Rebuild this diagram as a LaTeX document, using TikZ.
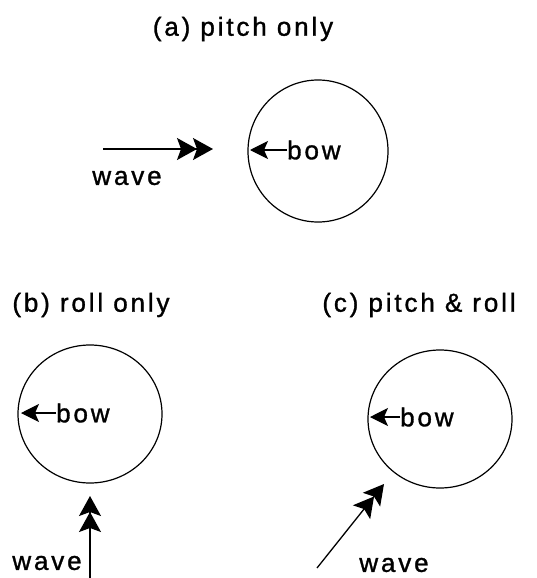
\documentclass[tikz,border=0pt]{standalone}
\usepackage{fontspec}
\newfontfamily\labfont{Liberation Sans}[LetterSpace=11,FakeBold=1.2]
\usetikzlibrary{arrows.meta}
\begin{document}
\begin{tikzpicture}[x=1pt,y=-1pt,
  lab/.style={font=\labfont\fontsize{26}{30}\selectfont, inner sep=0pt},
  hull/.style={draw, line width=1.2pt},
  wavearrow/.style={line width=1.3pt, -{Stealth[length=20pt,width=22pt,inset=4pt,sep=-4pt]Stealth[length=20pt,width=22pt,inset=4pt]}},
  bowarrow/.style={line width=1.1pt, -{Stealth[length=18pt,width=18pt,inset=4pt]}}]
\useasboundingbox (0,0) rectangle (536,578);
% (a)
\node[lab] (ta) at (243,29) {(a) pitch only};
\draw[hull] (318,151) ellipse [x radius=70, y radius=71];
\coordinate (abowtip) at (250,150);
\node[lab, anchor=west] (abow) at (287,150) {bow};
\draw[bowarrow] (abow.west) -- (abowtip);
\coordinate (awstart) at (103,149);
\coordinate (awtip) at (213,149);
\draw[wavearrow] (awstart) -- (awtip);
\node[lab] (aw) at (127,178) {wave};
% (b)
\node[lab] (tb) at (91,305) {(b) roll only};
\draw[hull] (90,414) ellipse [x radius=72, y radius=69];
\coordinate (bbowtip) at (21,413);
\node[lab, anchor=west] (bbow) at (56,413) {bow};
\draw[bowarrow] (bbow.west) -- (bbowtip);
\coordinate (bwstart) at (90,580);
\coordinate (bwtip) at (90,496);
\draw[wavearrow] (bwstart) -- (bwtip);
\node[lab] (bw) at (47,563) {wave};
% (c)
\node[lab] (tc) at (419,305) {(c) pitch \& roll};
\draw[hull] (440,419) ellipse [x radius=72, y radius=69];
\coordinate (cbowtip) at (370,417);
\node[lab, anchor=west] (cbow) at (400,417) {bow};
\draw[bowarrow] (cbow.west) -- (cbowtip);
\coordinate (cwstart) at (317,568);
\coordinate (cwtip) at (384,484);
\draw[wavearrow] (cwstart) -- (cwtip);
\node[lab] (cw) at (394,565) {wave};
\end{tikzpicture}
\end{document}
